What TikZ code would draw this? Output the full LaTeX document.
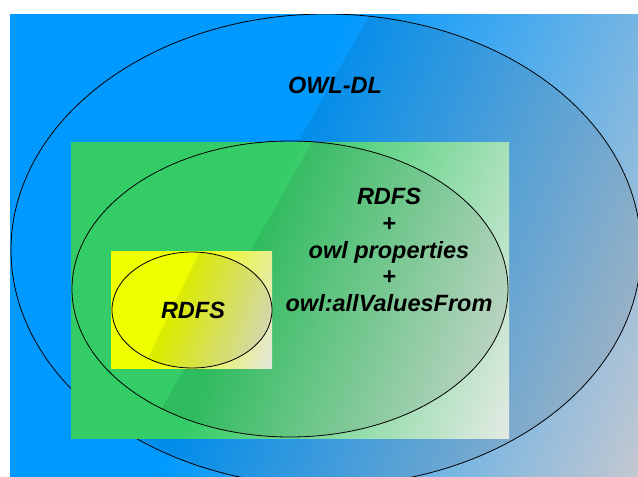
\documentclass[tikz,border=0pt]{standalone}
\usepackage{fontspec}
\setmainfont{Liberation Sans}
\definecolor{cBlue}{RGB}{0,153,255}
\definecolor{cBlueEnd}{RGB}{196,200,208}
\definecolor{cGreen}{RGB}{51,204,102}
\definecolor{cGreenEnd}{RGB}{228,234,228}
\definecolor{cYellow}{RGB}{238,255,0}
\definecolor{cYellowEnd}{RGB}{228,230,222}
\pgfdeclarehorizontalshading{blueshade}{100bp}{color(0bp)=(cBlue); color(44bp)=(cBlue); color(83bp)=(cBlueEnd); color(100bp)=(cBlueEnd)}
\pgfdeclarehorizontalshading{greenshade}{100bp}{color(0bp)=(cGreen); color(43.5bp)=(cGreen); color(82.5bp)=(cGreenEnd); color(100bp)=(cGreenEnd)}
\pgfdeclarehorizontalshading{yellowshade}{100bp}{color(0bp)=(cYellow); color(44bp)=(cYellow); color(82bp)=(cYellowEnd); color(100bp)=(cYellowEnd)}
\tikzset{
  venn/.style={draw=black, line width=0.8pt},
  hatchveil/.style={fill=black, fill opacity=0.08},
  lbl/.style={font=\fontsize{23.5}{26.8}\selectfont\bfseries\itshape, text=black, inner sep=0pt}
}
\begin{document}
\begin{tikzpicture}[x=1pt,y=-1pt]
\useasboundingbox (0,0) rectangle (638,477);
% OWL-DL region
\shade[shading=blueshade, shading angle=-22.5] (10,14) rectangle (638,477);
\begin{scope}
  \clip (10,14) rectangle (638,477);
  \begin{scope}
    \clip (326,250) ellipse [x radius=315, y radius=236];
    \fill[hatchveil] (406,-50) -- (74.6,540) -- (800,540) -- (800,-50) -- cycle;
  \end{scope}
  \draw[venn] (326,250) ellipse [x radius=315, y radius=236];
\end{scope}
% RDFS + owl properties region
\shade[shading=greenshade, shading angle=-20.9] (71,142) rectangle (509,438);
\begin{scope}
  \clip (290,289) ellipse [x radius=218, y radius=148];
  \fill[hatchveil] (335.7,100) -- (121.4,480) -- (600,480) -- (600,100) -- cycle;
\end{scope}
\draw[venn] (290,289) ellipse [x radius=218, y radius=148];
% RDFS region
\shade[shading=yellowshade, shading angle=-19.5] (111,251) rectangle (272,368);
\begin{scope}
  \clip (192,310) ellipse [x radius=80, y radius=58];
  \fill[hatchveil] (205.4,240) -- (137.2,380) -- (300,380) -- (300,240) -- cycle;
\end{scope}
\draw[venn] (192,310) ellipse [x radius=80, y radius=58];
% labels
\node[lbl, anchor=base] (owldl) at (335,93) {OWL-DL};
\node[lbl, align=center] (rdfsplus) at (389,250) {RDFS\\+\\owl properties\\+\\owl:allValuesFrom};
\node[lbl, anchor=base] (rdfs) at (193,318) {RDFS};
\end{tikzpicture}
\end{document}
